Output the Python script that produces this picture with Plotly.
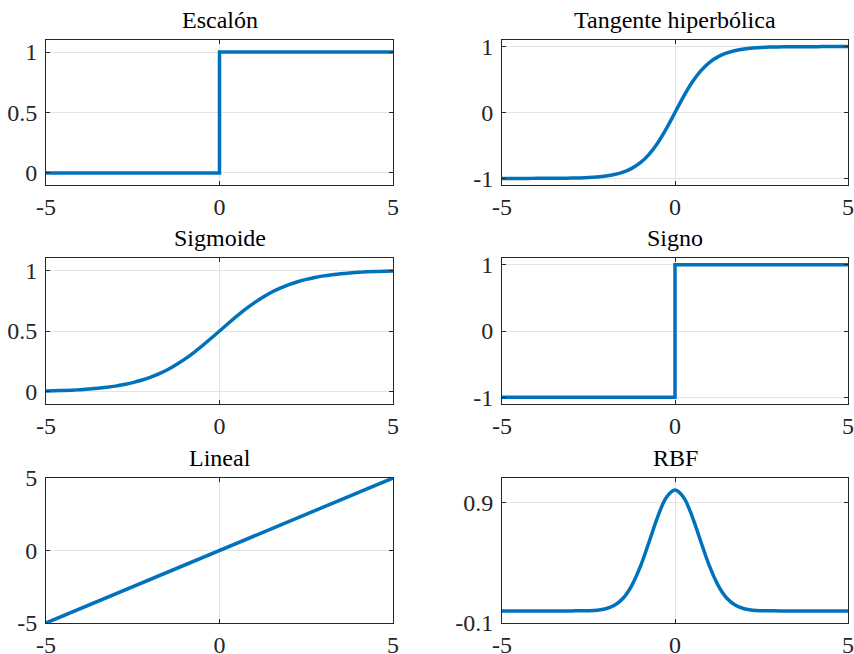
import plotly.graph_objects as go
from plotly.subplots import make_subplots

# ---- data ----
titles = ["Escalón", "Tangente hiperbólica", "Sigmoide", "Signo", "Lineal", "RBF"]

x_curve = [-5.0, -4.75, -4.5, -4.25, -4.0, -3.75, -3.5, -3.25, -3.0, -2.75, -2.5,
           -2.25, -2.0, -1.75, -1.5, -1.25, -1.0, -0.75, -0.5, -0.25, 0.0,
           0.25, 0.5, 0.75, 1.0, 1.25, 1.5, 1.75, 2.0, 2.25, 2.5,
           2.75, 3.0, 3.25, 3.5, 3.75, 4.0, 4.25, 4.5, 4.75, 5.0]

x_step = [-5, 0, 0, 5]
y_escalon = [0, 0, 1, 1]
y_signo = [-1, -1, 1, 1]

y_tanh = [-1.000, -1.000, -1.000, -1.000, -0.999, -0.999, -0.998, -0.997, -0.995, -0.992, -0.987,
          -0.978, -0.964, -0.941, -0.905, -0.848, -0.762, -0.635, -0.462, -0.245, 0.000,
          0.245, 0.462, 0.635, 0.762, 0.848, 0.905, 0.941, 0.964, 0.978, 0.987,
          0.992, 0.995, 0.997, 0.998, 0.999, 0.999, 1.000, 1.000, 1.000, 1.000]

y_sigmoide = [0.007, 0.009, 0.011, 0.014, 0.018, 0.023, 0.029, 0.037, 0.047, 0.060, 0.076,
              0.095, 0.119, 0.148, 0.182, 0.223, 0.269, 0.321, 0.378, 0.438, 0.500,
              0.562, 0.622, 0.679, 0.731, 0.777, 0.818, 0.852, 0.881, 0.905, 0.924,
              0.940, 0.953, 0.963, 0.971, 0.977, 0.982, 0.986, 0.989, 0.991, 0.993]

x_lineal = [-5, 5]
y_lineal = [-5, 5]

y_rbf = [0.000, 0.000, 0.000, 0.000, 0.000, 0.000, 0.000, 0.000, 0.000, 0.001, 0.002,
         0.006, 0.018, 0.047, 0.105, 0.210, 0.368, 0.570, 0.779, 0.939, 1.000,
         0.939, 0.779, 0.570, 0.368, 0.210, 0.105, 0.047, 0.018, 0.006, 0.002,
         0.001, 0.000, 0.000, 0.000, 0.000, 0.000, 0.000, 0.000, 0.000, 0.000]

x_ticks = [-5, 0, 5]
x_ticktext = ["-5", "0", "5"]

y_ticks = [[0, 0.5, 1], [-1, 0, 1], [0, 0.5, 1], [-1, 0, 1], [-5, 0, 5], [-0.1, 0.9]]
y_ticktext = [["0", "0.5", "1"], ["-1", "0", "1"], ["0", "0.5", "1"], ["-1", "0", "1"],
              ["-5", "0", "5"], ["-0.1", "0.9"]]
y_ranges = [[-0.1, 1.1], [-1.1, 1.1], [-0.1, 1.1], [-1.1, 1.1], [-5, 5], [-0.1, 1.1]]

series = [(x_step, y_escalon, "linear"), (x_curve, y_tanh, "spline"),
          (x_curve, y_sigmoide, "spline"), (x_step, y_signo, "linear"),
          (x_lineal, y_lineal, "linear"), (x_curve, y_rbf, "spline")]

# ---- layout geometry (paper fractions) ----
W, H = 854, 654
col_px = [(46, 393), (502, 848)]
row_px = [(40, 185), (258, 404), (478, 623)]

FONT = "Liberation Serif"
AXC = "#262626"
GRID = "#e3e3e3"
BLUE = "#0072BD"
FS = 24

fig = make_subplots(rows=3, cols=2)

for i, (xs, ys, shape) in enumerate(series):
    r, c = i // 2, i % 2
    fig.add_trace(go.Scatter(x=xs, y=ys, mode="lines",
                             line=dict(color=BLUE, width=3.5, shape=shape),
                             showlegend=False, hoverinfo="skip"),
                  row=r + 1, col=c + 1)
    x0, x1 = col_px[c]
    y0, y1 = row_px[r]
    xd = [x0 / W, x1 / W]
    yd = [1 - y1 / H, 1 - y0 / H]
    fig.update_xaxes(domain=xd, range=[-5, 5], tickvals=x_ticks, ticktext=x_ticktext,
                     ticks="inside", ticklen=4, tickcolor=AXC, tickwidth=1,
                     showline=True, linecolor=AXC, linewidth=1, mirror="allticks",
                     showgrid=True, gridcolor=GRID, gridwidth=1, zeroline=False,
                     tickfont=dict(family=FONT, size=FS, color=AXC),
                     ticklabelstandoff=0, automargin=False,
                     row=r + 1, col=c + 1)
    fig.update_yaxes(domain=yd, range=y_ranges[i], tickvals=y_ticks[i], ticktext=y_ticktext[i],
                     ticks="inside", ticklen=4, tickcolor=AXC, tickwidth=1,
                     showline=True, linecolor=AXC, linewidth=1, mirror="allticks",
                     showgrid=True, gridcolor=GRID, gridwidth=1, zeroline=False,
                     tickfont=dict(family=FONT, size=FS, color=AXC),
                     ticklabelstandoff=3, automargin=False,
                     row=r + 1, col=c + 1)
    fig.add_annotation(text=titles[i], x=(xd[0] + xd[1]) / 2, y=yd[1],
                       xref="paper", yref="paper", xanchor="center", yanchor="bottom",
                       yshift=5, showarrow=False,
                       font=dict(family=FONT, size=FS, color="#000000"))

fig.update_layout(width=W, height=H, margin=dict(l=0, r=0, t=0, b=0, autoexpand=False),
                  paper_bgcolor="white", plot_bgcolor="white")

fig.write_html("out.html", config={"displayModeBar": False},
               post_script="document.body.style.margin='0px';document.body.style.overflow='hidden';")
